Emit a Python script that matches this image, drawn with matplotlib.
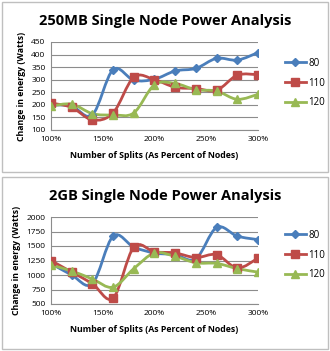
import matplotlib
matplotlib.use("Agg")
import matplotlib.pyplot as plt
from matplotlib.path import Path
from matplotlib.patches import PathPatch, Rectangle
from matplotlib.lines import Line2D

splits = [100, 120, 140, 160, 180, 200, 220, 240, 260, 280, 300]
series_names = ["80", "110", "120"]

mb250_80 = [200, 195, 160, 340, 298, 302, 335, 345, 385, 378, 408]
mb250_110 = [207, 190, 140, 168, 310, 300, 270, 265, 258, 318, 320]
mb250_120 = [195, 203, 165, 160, 168, 280, 285, 260, 255, 222, 242]

gb2_80 = [1200, 1000, 850, 1670, 1480, 1380, 1350, 1280, 1820, 1670, 1610]
gb2_110 = [1250, 1050, 850, 600, 1480, 1400, 1380, 1300, 1350, 1120, 1290]
gb2_120 = [1170, 1070, 930, 790, 1110, 1380, 1320, 1210, 1200, 1110, 1050]

colors = ["#4A7EBB", "#BE4B48", "#98B954"]
markers = ["D", "s", "^"]
msizes = [4.5, 6, 6]

W, H = 330, 351
FONT = "Open Sans"


def smooth_path(xs, ys):
    # excel style smoothed line: cubic bezier through every point
    verts = [(xs[0], ys[0])]
    codes = [Path.MOVETO]
    n = len(xs)
    for i in range(n - 1):
        x0, y0 = (xs[i - 1], ys[i - 1]) if i > 0 else (xs[i], ys[i])
        x1, y1 = xs[i], ys[i]
        x2, y2 = xs[i + 1], ys[i + 1]
        x3, y3 = (xs[i + 2], ys[i + 2]) if i + 2 < n else (x2, y2)
        c1 = (x1 + (x2 - x0) / 6, y1 + (y2 - y0) / 6)
        c2 = (x2 - (x3 - x1) / 6, y2 - (y3 - y1) / 6)
        verts += [c1, c2, (x2, y2)]
        codes += [Path.CURVE4] * 3
    return Path(verts, codes)


def draw_chart(fig, box, ax_rect, title, data, ylim, yticks, legend_y):
    x0, y0, x1, y1 = box
    fig.patches.append(Rectangle((x0 / W, 1 - y1 / H), (x1 - x0) / W, (y1 - y0) / H,
                                 transform=fig.transFigure, fill=False,
                                 edgecolor="#BFBFBF", linewidth=1))
    fig.text((x0 + x1) / 2 / W, 1 - (y0 + 19) / H, title, ha="center", va="center",
             fontsize=10.5, fontweight="bold", family=FONT)

    l, t, r, b = ax_rect
    ax = fig.add_axes([l / W, 1 - b / H, (r - l) / W, (b - t) / H])
    for vals, c, m, ms in zip(data, colors, markers, msizes):
        ax.add_patch(PathPatch(smooth_path(splits, vals), facecolor="none",
                               edgecolor=c, linewidth=2, zorder=3))
        ax.plot(splits, vals, linestyle="none", marker=m, color=c, markersize=ms, zorder=4)

    ax.set_xlim(100, 300)
    ax.set_ylim(*ylim)
    ax.set_yticks(yticks)
    ax.set_xticks([100, 150, 200, 250, 300])
    ax.set_xticklabels(["100%", "150%", "200%", "250%", "300%"])
    ax.grid(axis="y", color="#8C8C8C", linewidth=0.8)
    ax.set_axisbelow(True)
    for s in ["top", "right"]:
        ax.spines[s].set_visible(False)
    for s in ["left", "bottom"]:
        ax.spines[s].set_color("#8C8C8C")
    ax.tick_params(length=0, labelsize=6, pad=4)
    for lab in ax.get_xticklabels() + ax.get_yticklabels():
        lab.set_family(FONT)
    ax.set_xlabel("Number of Splits (As Percent of Nodes)", fontsize=6.3,
                  fontweight="bold", family=FONT, labelpad=6)
    ax.set_ylabel("Change in energy (Watts)", fontsize=6.3, fontweight="bold",
                  family=FONT, labelpad=4)

    handles = [Line2D([], [], color=c, marker=m, markersize=ms, linewidth=2)
               for c, m, ms in zip(colors, markers, msizes)]
    fig.legend(handles, series_names, loc="center left",
               bbox_to_anchor=(276 / W, 1 - legend_y / H), frameon=False,
               prop={"family": FONT, "size": 7}, handlelength=2.2,
               handletextpad=0.2, labelspacing=0.9)


fig = plt.figure(figsize=(W / 100, H / 100), dpi=100)
fig.patch.set_facecolor("white")

draw_chart(fig, (2, 2, 328, 172), (51, 42, 258, 130), "250MB Single Node Power Analysis",
           [mb250_80, mb250_110, mb250_120], (100, 450), range(100, 451, 50), 83)
draw_chart(fig, (2, 177, 328, 349), (51, 217, 258, 304), "2GB Single Node Power Analysis",
           [gb2_80, gb2_110, gb2_120], (500, 2000), range(500, 2001, 250), 255)

fig.savefig("out.png", dpi=100)
